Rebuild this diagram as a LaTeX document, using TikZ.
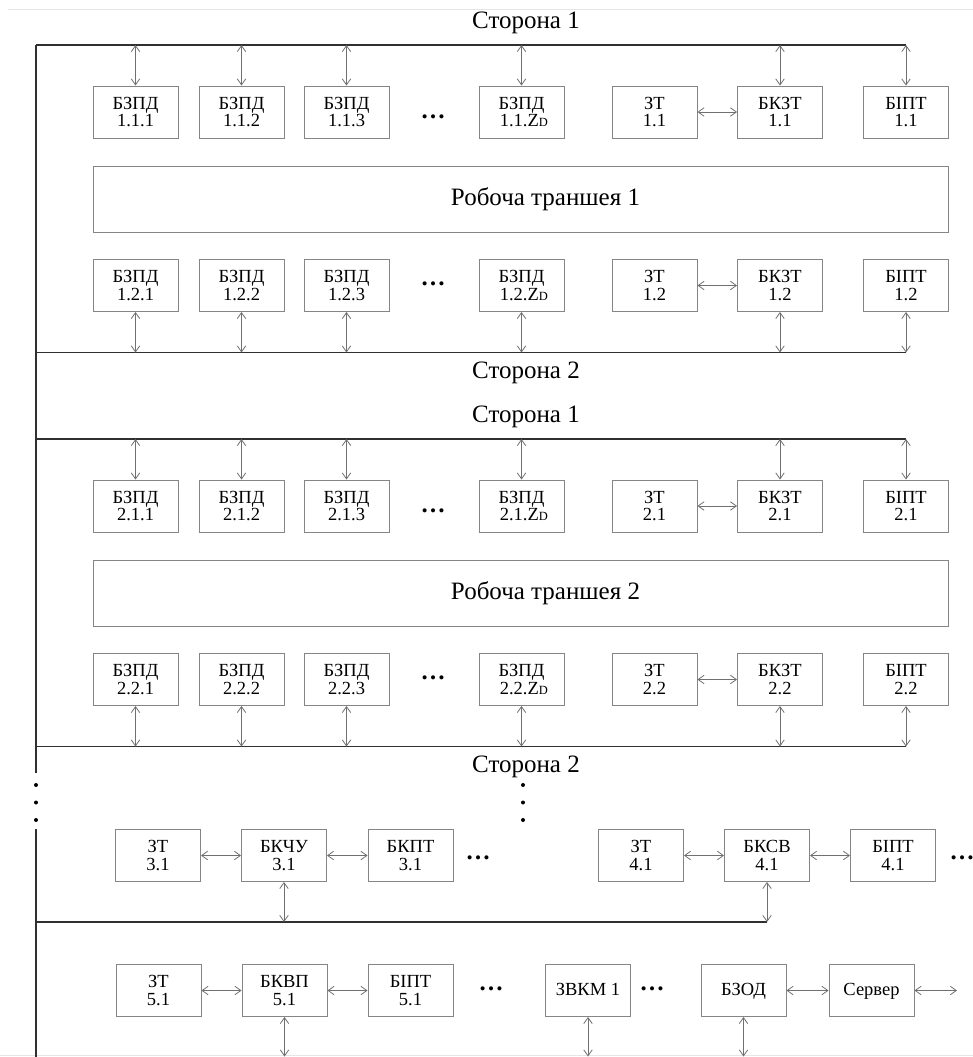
\documentclass[tikz,border=0pt]{standalone}
\usepackage{fontspec}
\setmainfont{Liberation Serif}
\usetikzlibrary{arrows.meta}
\definecolor{boxgray}{HTML}{858585}
\definecolor{linkgray}{HTML}{707070}
\definecolor{busline}{HTML}{303030}
\definecolor{pageedge}{HTML}{E6E6E6}
\newcommand\zdsub{{\fontsize{12.5}{12.5}\selectfont D}}
\tikzset{
  blk/.style={draw=boxgray, line width=0.9pt, minimum width=85pt, minimum height=52pt,
    inner sep=0pt, align=center, font=\fontsize{18.5}{17.5}\selectfont},
  one/.style={blk, text height=13pt, text depth=4pt},
  wide/.style={draw=boxgray, line width=0.9pt, minimum width=855pt, minimum height=66pt,
    inner sep=0pt, font=\fontsize{25}{25}\selectfont},
  side/.style={font=\fontsize{25}{25}\selectfont, inner sep=0pt},
  more/.style={font=\fontsize{25}{25}\selectfont\bfseries, inner sep=0pt},
  link/.style={draw=linkgray, line width=0.8pt,
    {Straight Barb[length=6pt,width=8.5pt]}-{Straight Barb[length=6pt,width=8.5pt]}},
  bus/.style={draw=busline, line width=1.2pt},
  vdot/.style={fill=black},
}
\begin{document}
\begin{tikzpicture}[x=1pt,y=-1pt]
\useasboundingbox (0,0) rectangle (973,1057);
% faint page edges
\draw[pageedge, line width=0.8pt] (8,9) -- (973,9);
\draw[pageedge, line width=0.8pt] (0,1055.5) -- (973,1055.5);

% two trench sections, each with side 1 and side 2 buses
\foreach \s/\o in {1/0,2/394}{
  \node[side] (up\s) at (526,23+\o) {Сторона 1};
  \node[side] (dn\s) at (526,373+\o) {Сторона 2};
  \coordinate (busA\s) at (36,45+\o);
  \coordinate (busB\s) at (906,45+\o);
  \coordinate (busC\s) at (36,352.5+\o);
  \coordinate (busD\s) at (906,352.5+\o);
  \draw[bus] (busA\s) -- (busB\s);
  \draw[bus] (busC\s) -- (busD\s);
  % side 1 row
  \node[blk] (u\s a) at (135.5,112+\o) {БЗПД\\\s.1.1};
  \node[blk] (u\s b) at (241.5,112+\o) {БЗПД\\\s.1.2};
  \node[blk] (u\s c) at (346.5,112+\o) {БЗПД\\\s.1.3};
  \node[more] (u\s d) at (433,116.5+\o) {…};
  \node[blk] (u\s z) at (521.5,112+\o) {БЗПД\\\ \s.1.Z\zdsub};
  \node[blk] (u\s t) at (654.5,112+\o) {ЗТ\\\s.1};
  \node[blk] (u\s k) at (780,112+\o) {БКЗТ\\\s.1};
  \node[blk] (u\s p) at (906,112+\o) {БІПТ\\\s.1};
  % working trench
  \node[wide] (w\s) at (520.5,199+\o) {\hspace*{50pt}Робоча траншея \s};
  % side 2 row
  \node[blk] (l\s a) at (135.5,285.5+\o) {БЗПД\\\s.2.1};
  \node[blk] (l\s b) at (241.5,285.5+\o) {БЗПД\\\s.2.2};
  \node[blk] (l\s c) at (346.5,285.5+\o) {БЗПД\\\s.2.3};
  \node[more] (l\s d) at (433,283.5+\o) {…};
  \node[blk] (l\s z) at (521.5,285.5+\o) {БЗПД\\\ \s.2.Z\zdsub};
  \node[blk] (l\s t) at (654.5,285.5+\o) {ЗТ\\\s.2};
  \node[blk] (l\s k) at (780,285.5+\o) {БКЗТ\\\s.2};
  \node[blk] (l\s p) at (906,285.5+\o) {БІПТ\\\s.2};
  % links to buses
  \foreach \n in {a,b,c,z,k,p}{
    \draw[link] (busA\s -| u\s\n) -- (u\s\n.north);
    \draw[link] (l\s\n.south) -- (busC\s -| l\s\n);
  }
  \draw[link] (u\s t.east) -- (u\s k.west);
  \draw[link] (l\s t.east) -- (l\s k.west);
}

% left trunk line with a break
\coordinate (trunkTop) at (36,45);
\coordinate (trunkBreak) at (36,773);
\coordinate (trunkResume) at (36,829);
\coordinate (trunkEnd) at (36,1057);
\draw[bus] (trunkTop) -- (trunkBreak);
\draw[bus] (trunkResume) -- (trunkEnd);
\foreach \y in {785,802.5,820}{
  \fill[vdot] (36,\y) circle (2pt);
  \fill[vdot] (523,\y) circle (2pt);
}

% row 3/4
\node[blk] (t31) at (158,855.5) {ЗТ\\3.1};
\node[blk] (c31) at (284,855.5) {БКЧУ\\3.1};
\node[blk] (k31) at (410.5,855.5) {БКПТ\\3.1};
\node[more] (d31) at (478,858) {…};
\node[blk] (t41) at (641,855.5) {ЗТ\\4.1};
\node[blk] (s41) at (767,855.5) {БКСВ\\4.1};
\node[blk] (p41) at (893,855.5) {БІПТ\\4.1};
\node[more] (d41) at (962,858) {…};
\draw[link] (t31.east) -- (c31.west);
\draw[link] (c31.east) -- (k31.west);
\draw[link] (t41.east) -- (s41.west);
\draw[link] (s41.east) -- (p41.west);
\coordinate (bus3A) at (36,922);
\coordinate (bus3B) at (767,922);
\draw[bus] (bus3A) -- (bus3B);
\draw[link] (c31.south) -- (bus3A -| c31);
\draw[link] (s41.south) -- (bus3A -| s41);

% row 5
\node[blk] (t51) at (158.5,990.5) {ЗТ\\5.1};
\node[blk] (v51) at (284.5,990.5) {БКВП\\5.1};
\node[blk] (p51) at (410.5,990.5) {БІПТ\\5.1};
\node[more] (d51) at (491,989) {…};
\node[one] (zv1) at (588,990.5) {ЗВКМ 1};
\node[more] (d52) at (652,989) {…};
\node[one] (bzd) at (743.5,990.5) {БЗОД};
\node[one] (srv) at (871.5,990.5) {Сервер};
\coordinate (srvOut) at (957,990.5);
\coordinate (floor) at (0,1056.5);
\draw[link] (t51.east) -- (v51.west);
\draw[link] (v51.east) -- (p51.west);
\draw[link] (bzd.east) -- (srv.west);
\draw[link] (srv.east) -- (srvOut);
\draw[link] (v51.south) -- (floor -| v51);
\draw[link] (zv1.south) -- (floor -| zv1);
\draw[link] (bzd.south) -- (floor -| bzd);
\end{tikzpicture}
\end{document}
